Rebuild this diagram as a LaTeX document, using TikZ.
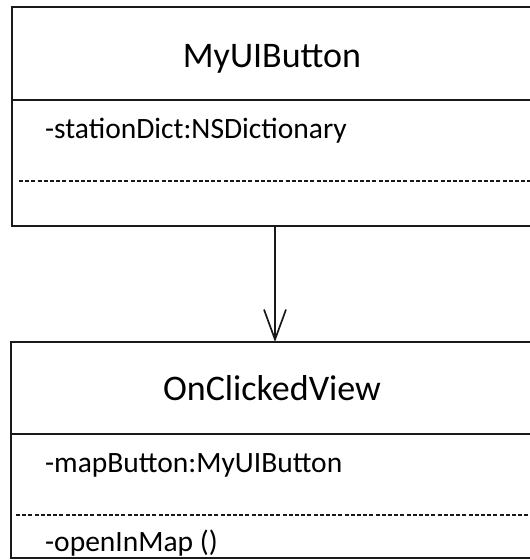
\documentclass[tikz,border=0pt]{standalone}
\usepackage{fontspec}
\setmainfont{Carlito}
\usetikzlibrary{arrows.meta}
\begin{document}
\begin{tikzpicture}[x=1pt,y=-1pt,
  classbox/.style={draw=black!90, line width=1.9pt, inner sep=0pt},
  sepline/.style={draw=black!90, line width=1.9pt},
  opsline/.style={draw=black!90, line width=2.3pt, dash pattern=on 4pt off 2.2pt},
  titletext/.style={inner sep=0pt, anchor=base, font=\fontsize{36}{43}\selectfont},
  membertext/.style={inner sep=0pt, anchor=base west, font=\fontsize{29.5}{35}\selectfont},
  assoc/.style={draw=black!90, line width=1.7pt, -{Straight Barb[length=30pt,width=22pt,line width=1.7pt]}}
]
\useasboundingbox (0,0) rectangle (530,560);

% MyUIButton class
\node[classbox, minimum width=520pt, minimum height=219pt] (btn) at (272,116.5) {};
\draw[sepline] (btn.west |- 0,100) -- (btn.east |- 0,100);
\draw[opsline] (btn.west |- 0,181) ++(8,0) -- (btn.east |- 0,181);
\node[titletext] (btnname) at (272,67) {MyUIButton};
\node[membertext] (btnattr) at (45,138) {-stationDict:NSDictionary};

% OnClickedView class
\node[classbox, minimum width=521pt, minimum height=216pt] (view) at (271.5,450) {};
\draw[sepline] (view.west |- 0,434) -- (view.east |- 0,434);
\draw[opsline] (view.west |- 0,515) ++(6,0) -- (view.east |- 0,515);
\node[titletext] (viewname) at (272,400) {OnClickedView};
\node[membertext] (viewattr) at (45,472) {-mapButton:MyUIButton};
\node[membertext] (viewop) at (45,551) {-openInMap ()};

% navigable association
\coordinate (src) at (275,226);
\coordinate (dst) at (275,342);
\draw[assoc] (src) -- (dst);
\end{tikzpicture}
\end{document}
